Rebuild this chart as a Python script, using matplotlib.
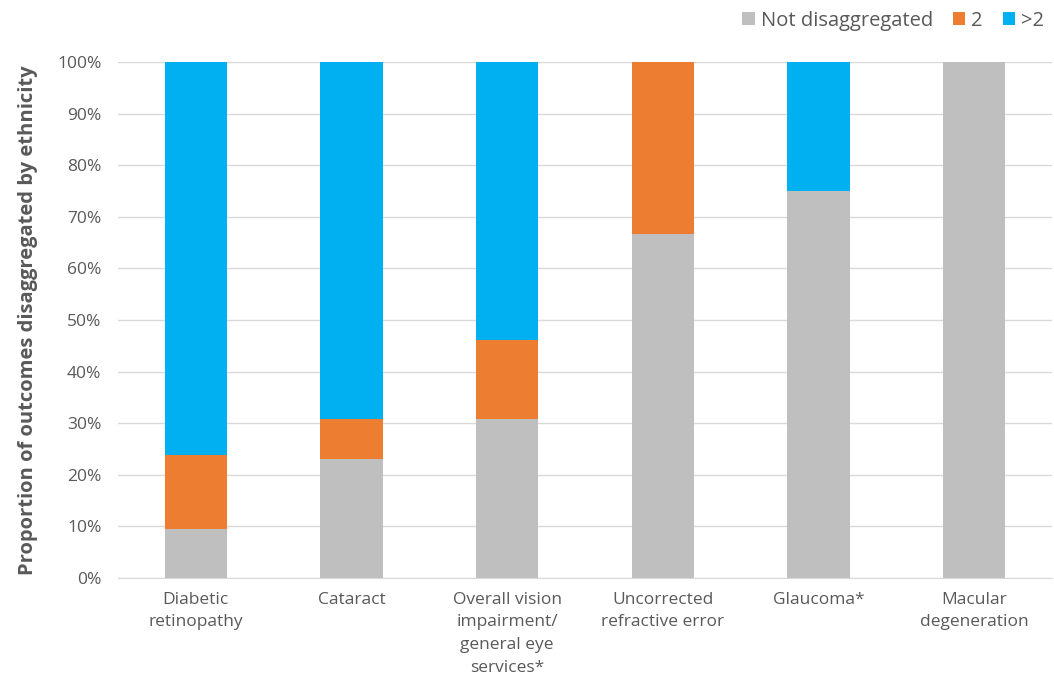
import matplotlib.pyplot as plt
import numpy as np

categories = ["Diabetic\nretinopathy", "Cataract", "Overall vision\nimpairment/\ngeneral eye\nservices*",
              "Uncorrected\nrefractive error", "Glaucoma*", "Macular\ndegeneration"]
not_disaggregated = [9.5, 23.1, 30.8, 66.7, 75.0, 100.0]
two = [14.3, 7.7, 15.4, 33.3, 0.0, 0.0]
more_than_two = [76.2, 69.2, 53.8, 0.0, 25.0, 0.0]

series_names = ["Not disaggregated", "2", ">2"]
colors = ["#BFBFBF", "#ED7D31", "#00B0F0"]

plt.rcParams['font.family'] = ['Open Sans', 'DejaVu Sans']

fig = plt.figure(figsize=(10.54, 6.88), dpi=100)
ax = fig.add_axes([0.112, 0.16, 0.886, 0.75])

x = np.arange(len(categories))
bottom = np.zeros(len(categories))
for name, vals, col in zip(series_names, [not_disaggregated, two, more_than_two], colors):
    ax.bar(x, vals, 0.4, bottom=bottom, color=col, label=name, zorder=3)
    bottom = bottom + np.array(vals)

ax.set_ylim(0, 100)
ax.set_xlim(-0.5, len(categories) - 0.5)
ax.set_yticks(np.arange(0, 101, 10))
ax.set_yticklabels([f"{v}%" for v in range(0, 101, 10)])
ax.set_xticks(x)
ax.set_xticklabels(categories, linespacing=1.55)
ax.tick_params(axis='both', length=0, labelsize=12.5, colors="#595959")
ax.tick_params(axis='x', pad=10)
ax.tick_params(axis='y', pad=12)
ax.grid(axis='y', color="#D9D9D9", linewidth=1, zorder=0)
for s in ["top", "right", "left"]:
    ax.spines[s].set_visible(False)
ax.spines["bottom"].set_color("#D9D9D9")

ax.set_ylabel("Proportion of outcomes disaggregated by ethnicity", fontsize=14.5,
              fontweight="bold", color="#595959", labelpad=14)

ax.legend(loc="lower right", bbox_to_anchor=(1.0, 1.045), ncol=3, frameon=False,
          fontsize=14.5, handlelength=0.6, handleheight=0.6, handletextpad=0.3,
          columnspacing=1.0, labelcolor="#595959", borderaxespad=0)

plt.savefig("out.png", dpi=100)
